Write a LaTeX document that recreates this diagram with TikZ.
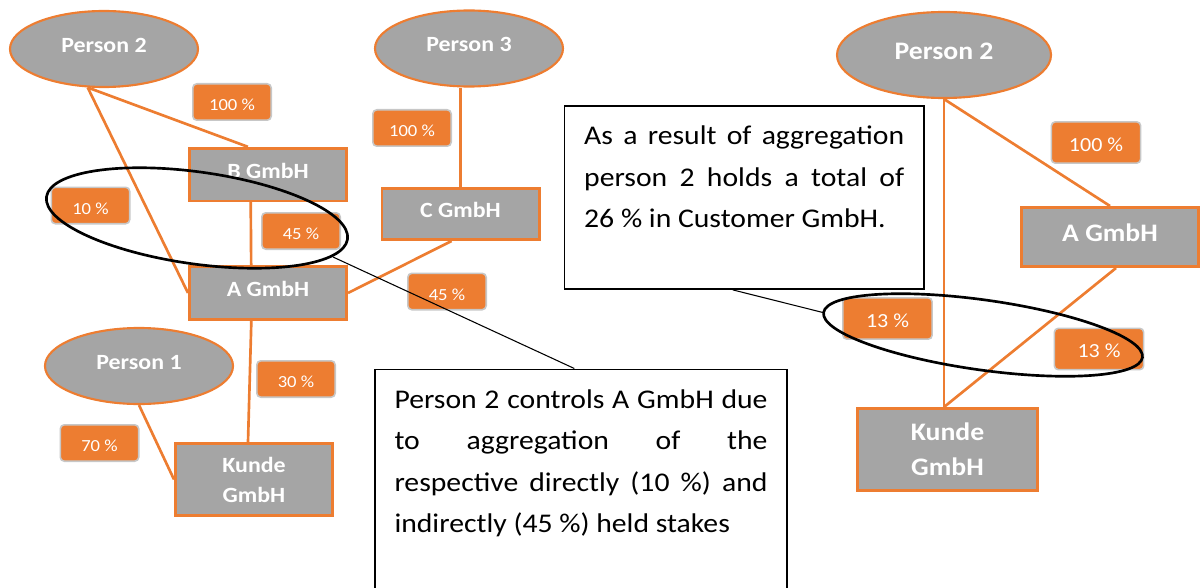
\documentclass[tikz,border=0pt]{standalone}
\usepackage{fontspec}
\setmainfont{Carlito}[FakeStretch=1.1]
\usetikzlibrary{shapes.geometric,backgrounds}

\definecolor{shareorange}{HTML}{ED7D31}
\definecolor{entitygray}{HTML}{A5A5A5}

\tikzset{
	person/.style={ellipse, draw=shareorange, fill=entitygray, line width=1.6pt, inner sep=0pt, text=white, text depth=6pt, font=\bfseries\fontsize{16.3}{20}\selectfont, minimum width=141pt, minimum height=57pt},
	firm/.style={draw=shareorange, fill=entitygray, line width=2pt, inner sep=0pt, text=white, align=center, font=\bfseries\fontsize{16.3}{22.5}\selectfont, minimum width=118pt, minimum height=39.5pt},
	share/.style={draw=black!22, fill=shareorange, line width=1.2pt, rounded corners=3pt, inner sep=0pt, text=white, text height=13pt, text depth=0pt, font=\fontsize{12.7}{15}\selectfont, minimum width=58.8pt, minimum height=27.3pt},
	bigshare/.style={share, font=\fontsize{15}{18}\selectfont, minimum width=67pt, minimum height=31pt},
	holding/.style={draw=shareorange, line width=2pt},
	note/.style={draw=black, fill=white, line width=1.4pt, inner xsep=14.8pt, inner ysep=7.5pt, font=\fontsize{20.25}{31.1}\selectfont},
	marker/.style={draw=black, line width=2pt},
	pointer/.style={draw=black, line width=0.8pt}
}

\begin{document}
\begin{tikzpicture}[x=0.75pt,y=0.75pt,yscale=-1,xscale=1]
	\useasboundingbox (0,0) rectangle (1201,588);
	% left: structure before aggregation
	\node[person] (p2L) at (104,49) {Person 2};
	\node[person] (p3) at (469,48.5) {Person 3};
	\node[person] (p1) at (139,366) {Person 1};
	\node[firm, text depth=6pt] (bG) at (268,174.5) {B GmbH};
	\node[firm, text depth=6pt, minimum height=38.5pt] (cG) at (460.5,214) {C GmbH};
	\node[firm, text depth=6pt, minimum height=40pt] (aGL) at (268,293) {A GmbH};
	\node[firm, minimum height=54.2pt] (kGL) at (254,479.5) {Kunde\\GmbH};
	\node[share] (s100B) at (232,102) {100 \%};
	\node[share] (s100C) at (412,128) {100 \%};
	\node[share] (s10) at (90.5,205.5) {10 \%};
	\node[share] (s45B) at (301,231) {45 \%};
	\node[share] (s45C) at (447,291.5) {45 \%};
	\node[share] (s30) at (296,379) {30 \%};
	\node[share] (s70) at (99.5,443) {70 \%};
	% right: structure after aggregation
	\node[person, minimum width=160.5pt, minimum height=64.5pt, font=\bfseries\fontsize{18.9}{22}\selectfont] (p2R) at (944,55) {Person 2};
	\node[firm, text depth=7pt, minimum width=133pt, minimum height=44.5pt, font=\bfseries\fontsize{18.9}{26.25}\selectfont] (aGR) at (1110,237) {A GmbH};
	\node[firm, minimum width=135.2pt, minimum height=61.7pt, font=\bfseries\fontsize{18.9}{26.25}\selectfont] (kGR) at (947.5,449.5) {Kunde\\GmbH};
	\node[bigshare] (s100A) at (1096,142.5) {100 \%};
	\node[bigshare] (s13a) at (887.5,318.5) {13 \%};
	\node[bigshare] (s13b) at (1099,349) {13 \%};
	% holdings
	\begin{pgfonlayer}{background}
		\draw[holding] (p2L.247) -- (bG.126);
		\draw[holding] (p2L.247) -- (aGL.west);
		\draw[holding] (bG.238) -- (aGL.121);
		\draw[holding] (cG.north |- p3.south) -- (cG.north);
		\draw[holding] ([xshift=-6.7pt]cG.south) -- (aGL.east);
		\draw[holding] ([xshift=-12.5pt]aGL.south) -- ([xshift=-4.5pt]kGL.north);
		\draw[holding] (p1.south) -- (kGL.west);
		\draw[holding] (p2R.south) -- (p2R.south |- kGR.north);
		\draw[holding] (p2R.south) -- (aGR.north);
		\draw[holding] ([xshift=4.5pt]aGR.south) -- (p2R.south |- kGR.north);
	\end{pgfonlayer}
	% notes
	\node[note, anchor=north] (noteL) at (581,368.5) {\parbox[t][165pt][t]{279.75pt}{\strut\makebox[\linewidth][s]{Person 2 controls A GmbH due}\\\makebox[\linewidth][s]{to aggregation of the}\\\makebox[\linewidth][s]{respective directly (10 \%) and}\\indirectly (45 \%) held stakes}};
	\node[note, anchor=north west] (noteR) at (563.5,105) {\parbox[t][122.25pt][t]{240pt}{\strut\makebox[\linewidth][s]{As a result of aggregation}\\\makebox[\linewidth][s]{person 2 holds a total of}\\26 \% in Customer GmbH.}};
	% aggregation markers
	\draw[marker, rotate around={8:(197,218)}] (197,218) ellipse (152 and 46);
	\coordinate (ovLtip) at (333,257);
	\draw[pointer] (ovLtip) -- ([xshift=-5pt]noteL.north);
	\draw[marker, rotate around={8:(983,335)}] (983,335) ellipse (161 and 35);
	\coordinate (ovRtip) at (823.7,312.7);
	\draw[pointer] ([xshift=-8.6pt]noteR.south) -- (ovRtip);
\end{tikzpicture}
\end{document}
